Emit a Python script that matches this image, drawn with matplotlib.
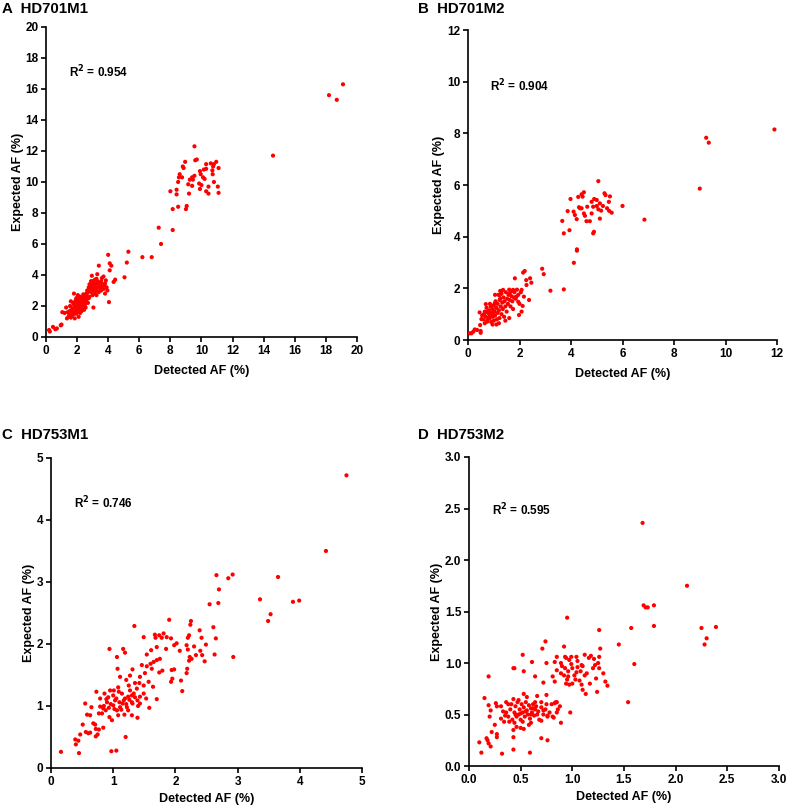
import matplotlib
matplotlib.use("Agg")
import matplotlib.pyplot as plt

plt.rcParams["font.family"] = ["Liberation Sans", "DejaVu Sans"]
plt.rcParams["font.weight"] = "bold"

# ---- A: HD701M1 (detected, expected)
a_pts = [
    (0.2, 0.45), (0.25, 0.35), (0.45, 0.65), (0.6, 0.5), (0.7, 0.55), (0.95, 0.75), (1.0, 0.8),
    (1.05, 1.6), (1.2, 1.55), (1.3, 1.9), (1.35, 1.2), (1.45, 1.3), (1.5, 1.45), (1.55, 1.7),
    (1.6, 1.25), (1.65, 1.6), (1.7, 1.85), (1.75, 2.2), (1.8, 2.8), (1.8, 1.5), (1.85, 1.2),
    (1.85, 2.0), (1.9, 2.35), (1.9, 1.7), (1.95, 1.5), (1.95, 2.5), (2.0, 1.9), (2.0, 2.2),
    (2.05, 1.6), (2.05, 2.7), (2.1, 1.3), (2.1, 2.0), (2.1, 2.4), (2.15, 1.8), (2.15, 2.15),
    (2.2, 2.25), (2.2, 1.55), (2.2, 2.6), (2.25, 1.95), (2.25, 2.35), (2.3, 1.7), (2.3, 2.1),
    (2.35, 2.5), (2.35, 1.9), (2.4, 2.2), (2.4, 2.75), (2.45, 1.75), (2.45, 2.0), (2.5, 2.4),
    (2.5, 2.6), (2.55, 1.9), (2.55, 2.2), (2.6, 2.8), (2.6, 2.45), (2.65, 3.0), (2.7, 2.2),
    (2.75, 3.2), (2.8, 2.6), (2.8, 3.4), (2.85, 3.1), (2.9, 2.9), (2.9, 3.6), (2.95, 3.95),
    (3.0, 3.3), (3.0, 2.7), (3.05, 1.9), (3.05, 3.5), (3.1, 3.1), (3.15, 2.8), (3.15, 3.7),
    (3.2, 3.4), (3.25, 2.7), (3.25, 3.0), (3.3, 4.05), (3.3, 3.6), (3.35, 3.2), (3.4, 4.6),
    (3.4, 2.9), (3.45, 3.5), (3.5, 3.1), (3.55, 3.0), (3.6, 3.8), (3.65, 3.4), (3.7, 3.9),
    (3.75, 3.35), (3.8, 2.8), (3.85, 3.65), (3.9, 3.2), (3.95, 3.0), (4.0, 5.3), (4.05, 2.25),
    (4.1, 4.75), (4.1, 4.3), (4.2, 4.6), (4.35, 3.55), (4.45, 3.7),
    (1.4, 1.6), (1.55, 2.0), (1.6, 2.3), (1.7, 1.4), (1.75, 1.65), (1.8, 2.1), (1.9, 1.9),
    (1.95, 2.2), (2.0, 2.5), (2.05, 2.05), (2.1, 1.85), (2.15, 2.45), (2.2, 2.0), (2.25, 1.65),
    (2.3, 2.3), (2.35, 2.1), (2.4, 1.95), (2.45, 2.35), (2.5, 2.1), (2.6, 2.3), (2.65, 2.65),
    (2.7, 2.9), (2.75, 2.5), (2.85, 3.35), (2.95, 3.15), (3.0, 3.6), (3.05, 3.0), (3.1, 3.45),
    (3.2, 3.2), (3.25, 3.75), (3.35, 3.45), (3.45, 3.25), (3.55, 3.6), (3.6, 3.3), (3.7, 3.1),
    (3.8, 3.45),
    (5.05, 3.85), (5.2, 4.8), (5.3, 5.5), (6.2, 5.15), (6.8, 5.15), (7.25, 7.05), (7.4, 6.0),
    (8.15, 6.9),
    (8.95, 11.3), (8.8, 11.0), (8.85, 10.9), (8.6, 10.5), (8.55, 10.3), (8.75, 10.3), (8.5, 10.0),
    (8.0, 9.4), (8.4, 9.5), (8.4, 9.2), (8.5, 8.4), (9.05, 8.45), (9.0, 8.25), (8.15, 8.25),
    (9.15, 9.85), (9.2, 9.25), (9.4, 9.75), (9.25, 10.15), (9.4, 10.3), (9.55, 10.4),
    (9.45, 10.15), (9.9, 10.7), (9.95, 10.5), (9.85, 9.9), (10.0, 9.8), (9.9, 9.55),
    (10.1, 10.3), (10.2, 10.2), (10.15, 10.8), (10.3, 10.85), (10.3, 11.15), (10.3, 9.4),
    (10.45, 9.25), (10.45, 9.7), (10.6, 11.2), (10.75, 11.0), (10.8, 11.15), (10.95, 11.3),
    (10.7, 10.75), (10.72, 10.5), (10.8, 10.0), (11.1, 10.9), (11.05, 9.7), (11.1, 9.3),
    (9.55, 12.3), (9.6, 11.4), (9.7, 11.45),
    (14.6, 11.7), (18.2, 15.6), (18.7, 15.3), (19.1, 16.3),
]

# ---- B: HD701M2
b_pts = [
    (0.06, 0.26), (0.13, 0.26), (0.2, 0.32), (0.26, 0.41), (0.35, 0.39), (0.49, 0.28),
    (0.49, 0.35), (0.47, 0.58), (0.45, 1.07), (0.52, 0.81), (0.65, 1.1), (0.69, 1.39),
    (0.74, 0.71), (0.84, 0.84), (0.97, 1.03), (1.04, 1.42), (1.1, 1.23), (1.23, 1.55),
    (1.23, 1.74), (1.36, 1.94), (1.62, 1.81), (1.75, 1.94), (1.82, 2.39), (2.08, 1.94),
    (2.14, 2.61), (2.2, 2.67), (2.26, 2.32), (2.41, 2.39), (2.46, 2.22), (2.37, 1.55),
    (2.27, 2.13), (1.98, 0.97), (2.08, 1.1), (2.12, 1.32), (2.17, 1.68), (1.95, 1.48),
    (1.88, 1.68),
    (0.55, 0.95), (0.6, 0.8), (0.62, 1.0), (0.7, 0.9), (0.72, 1.25), (0.75, 0.75), (0.78, 1.05),
    (0.8, 0.85), (0.82, 1.15), (0.85, 0.95), (0.88, 1.3), (0.9, 0.7), (0.92, 1.05), (0.95, 1.2),
    (0.97, 0.9), (1.0, 1.35), (1.0, 0.75), (1.03, 1.1), (1.05, 0.95), (1.07, 1.5), (1.1, 1.25),
    (1.12, 0.8), (1.15, 1.4), (1.15, 1.05), (1.18, 1.75), (1.2, 1.15), (1.22, 0.85), (1.25, 1.6),
    (1.27, 1.3), (1.3, 1.0), (1.3, 1.8), (1.33, 1.45), (1.35, 1.2), (1.38, 1.65), (1.4, 0.9),
    (1.42, 1.5), (1.45, 1.3), (1.47, 1.85), (1.5, 1.1), (1.52, 1.6), (1.55, 1.4), (1.57, 1.75),
    (1.6, 0.85), (1.62, 1.55), (1.65, 1.3), (1.68, 1.7), (1.7, 1.9), (1.72, 1.5), (1.75, 1.2),
    (1.78, 1.65), (1.8, 1.85), (1.85, 1.6), (1.9, 1.95), (1.95, 1.75), (2.0, 1.4), (2.05, 1.85),
    (1.45, 0.75), (1.2, 0.65), (0.95, 0.6), (1.05, 1.75), (0.85, 1.4), (1.25, 1.9), (1.6, 1.95),
    (0.65, 0.65), (0.75, 1.1), (1.1, 0.6),
    (2.88, 2.76), (2.94, 2.55), (3.2, 1.91), (3.72, 1.96), (4.11, 2.99), (4.23, 3.51),
    (4.23, 3.46),
    (3.98, 5.46), (3.87, 4.99), (3.66, 4.61), (3.72, 4.13), (3.94, 4.25),
    (4.28, 5.54), (4.41, 5.64), (4.5, 5.72), (4.45, 5.55), (4.31, 5.14), (4.35, 5.1),
    (4.1, 4.97), (4.15, 4.84), (4.22, 4.68), (4.5, 4.9), (4.54, 4.81), (4.6, 4.6), (4.73, 4.6),
    (4.8, 4.9), (4.86, 5.16), (4.8, 5.35), (4.9, 5.46), (4.89, 4.19), (4.86, 4.13), (5.0, 5.19),
    (5.06, 5.06), (5.12, 5.29), (5.17, 5.01), (5.24, 5.19), (5.3, 5.68), (5.34, 5.61),
    (5.4, 5.1), (5.47, 5.35), (5.51, 5.56), (5.48, 5.0), (5.58, 4.93), (5.12, 4.7), (5.0, 5.42),
    (4.63, 5.16), (4.41, 5.1), (5.06, 6.15), (6.0, 5.19), (6.85, 4.66),
    (9.0, 5.86), (9.25, 7.83), (9.35, 7.64), (11.9, 8.15),
]

# ---- C: HD753M1
c_pts = [
    (4.75, 4.72), (4.42, 3.5), (3.65, 3.08), (3.36, 2.72), (3.53, 2.48), (3.49, 2.37),
    (3.89, 2.68), (3.99, 2.7),
    (2.66, 3.11), (2.92, 3.12), (2.85, 3.06), (2.7, 2.88), (2.69, 2.66), (2.55, 2.64),
    (2.61, 2.27), (2.65, 2.09), (2.63, 1.83), (2.93, 1.79), (2.49, 1.99), (2.47, 1.72),
    (2.39, 2.22), (2.42, 2.1), (2.4, 1.89), (2.43, 1.82), (2.33, 1.82), (2.3, 1.96),
    (2.25, 2.37), (2.24, 2.31), (2.22, 2.14), (2.2, 2.1), (2.18, 1.98), (2.2, 1.91),
    (2.23, 1.79), (2.26, 1.76), (2.22, 1.73), (2.19, 1.6), (2.18, 1.53), (2.11, 1.24),
    (2.09, 1.41), (2.07, 1.89), (2.02, 2.01), (1.98, 1.98), (1.9, 2.39), (1.93, 2.09),
    (1.86, 2.11), (1.85, 1.92), (1.94, 1.58), (1.98, 1.59), (1.95, 1.44), (1.93, 1.39),
    (1.81, 2.17), (1.78, 2.1), (1.74, 2.14), (1.67, 2.15), (1.68, 2.1), (1.7, 1.95),
    (1.75, 1.76), (1.7, 1.74), (1.65, 1.71), (1.79, 1.57), (1.74, 1.54), (1.62, 1.6),
    (1.6, 1.68), (1.61, 1.9), (1.54, 1.83), (1.49, 2.11), (1.34, 2.29), (1.54, 1.64),
    (1.51, 1.53), (1.46, 1.66), (1.43, 1.47), (1.42, 1.37), (1.31, 1.59), (1.27, 1.49),
    (1.35, 1.37), (1.07, 1.6), (1.06, 1.79), (1.16, 1.92), (1.19, 1.86), (0.94, 1.92),
    (1.05, 0.28), (0.97, 0.27), (1.2, 0.5), (0.45, 0.24), (0.16, 0.26), (0.39, 0.46),
    (0.44, 0.44), (0.4, 0.38), (0.47, 0.54), (0.51, 0.7), (0.56, 0.58), (0.6, 0.56),
    (0.63, 0.57), (0.72, 0.63), (0.75, 0.54), (0.72, 0.51), (0.77, 0.62), (0.84, 0.65),
    (0.68, 0.72), (0.71, 0.7), (0.58, 0.86), (0.63, 0.85), (0.55, 1.04), (0.65, 0.98),
    (0.73, 1.23), (0.77, 0.88), (0.79, 0.99), (1.24, 1.15), (1.43, 1.15), (1.7, 1.11),
    (1.58, 0.97), (1.39, 0.81), (1.3, 0.85), (1.06, 0.93), (0.98, 0.77), (0.94, 0.82),
    (1.18, 0.86), (1.22, 0.98), (0.9, 1.06), (1.0, 1.17), (1.08, 1.3), (0.95, 1.25),
    (1.03, 1.09), (1.11, 0.98), (1.14, 1.2), (1.27, 1.25), (1.33, 1.2), (1.38, 1.28),
    (1.39, 1.09), (1.49, 1.2), (1.3, 1.06), (1.19, 1.12), (1.08, 0.85), (0.84, 0.96),
    (0.82, 0.88), (0.89, 1.11), (0.79, 1.12), (1.0, 1.01), (1.15, 1.04), (1.24, 0.93),
    (1.31, 1.04), (1.43, 1.04), (1.53, 1.12), (1.64, 1.31), (1.49, 1.33), (1.57, 1.39),
    (1.21, 1.42), (1.11, 1.47), (1.3, 1.17),
    (0.85, 1.0), (0.88, 0.93), (0.92, 1.14), (0.96, 1.03), (1.02, 0.95), (1.05, 1.12),
    (1.1, 1.06), (1.13, 0.94), (1.17, 1.09), (1.21, 1.03), (1.26, 1.1), (1.35, 1.14),
    (1.4, 1.0), (0.93, 0.97), (1.09, 1.23), (1.25, 1.33), (0.86, 1.2), (1.01, 1.25),
]

# ---- D: HD753M2
d_pts = [
    (1.68, 2.36), (2.11, 1.75), (1.69, 1.56), (1.71, 1.54), (1.73, 1.54), (1.79, 1.56),
    (1.79, 1.36), (1.57, 1.34), (2.25, 1.34), (2.39, 1.35), (2.3, 1.24), (2.28, 1.18),
    (1.6, 0.99), (1.54, 0.62), (1.45, 1.18), (1.26, 1.32), (0.95, 1.44), (1.27, 1.14),
    (0.92, 1.16), (0.74, 1.21), (0.71, 1.14), (0.52, 1.08), (0.43, 0.95), (0.44, 0.95),
    (0.61, 1.01), (0.19, 0.87), (0.64, 0.87), (0.53, 0.92), (0.75, 1.0), (0.93, 1.06),
    (0.85, 1.06), (0.83, 1.01), (0.99, 1.06), (1.04, 1.06), (1.12, 1.08), (1.18, 1.07),
    (1.21, 1.04), (1.25, 1.0), (1.26, 1.06), (1.26, 0.95), (1.3, 0.9), (1.23, 0.85),
    (1.32, 0.82), (1.34, 0.78), (1.24, 0.72), (1.17, 0.8), (1.13, 0.7), (1.1, 0.74),
    (1.09, 0.79), (1.12, 0.88), (1.04, 0.91), (0.99, 0.99), (0.93, 0.95), (0.96, 0.87),
    (0.89, 0.9), (0.89, 1.0), (0.85, 0.93), (0.81, 0.87), (0.83, 0.82), (0.94, 0.8),
    (0.97, 0.79), (1.05, 0.96), (1.09, 0.98), (1.07, 0.83), (0.85, 0.62), (0.83, 0.61),
    (0.88, 0.58), (0.85, 0.52), (0.89, 0.42), (0.81, 0.48), (0.75, 0.69), (0.72, 0.81),
    (0.7, 0.62), (0.72, 0.54), (0.76, 0.49), (0.98, 0.52), (0.7, 0.27), (0.76, 0.25),
    (0.59, 0.13), (0.32, 0.12), (0.12, 0.13), (0.1, 0.23), (0.19, 0.22), (0.21, 0.19),
    (0.18, 0.25), (0.22, 0.33), (0.27, 0.31), (0.27, 0.28), (0.17, 0.27), (0.15, 0.66),
    (0.19, 0.59), (0.21, 0.54), (0.2, 0.48), (0.26, 0.61), (0.27, 0.58), (0.25, 0.4),
    (0.43, 0.28), (0.43, 0.35), (0.5, 0.37), (0.53, 0.36), (0.43, 0.16), (0.31, 0.58),
    (0.33, 0.53), (0.35, 0.49), (0.31, 0.46), (0.34, 0.43), (0.39, 0.43), (0.36, 0.62),
    (0.36, 0.52), (0.38, 0.48), (0.4, 0.55), (0.41, 0.6), (0.42, 0.45), (0.43, 0.65),
    (0.44, 0.52), (0.45, 0.58), (0.46, 0.48), (0.47, 0.62), (0.48, 0.5), (0.49, 0.55),
    (0.5, 0.45), (0.51, 0.6), (0.52, 0.52), (0.53, 0.57), (0.54, 0.48), (0.55, 0.62),
    (0.56, 0.54), (0.57, 0.5), (0.58, 0.59), (0.59, 0.46), (0.6, 0.56), (0.61, 0.52),
    (0.62, 0.6), (0.63, 0.49), (0.64, 0.55), (0.65, 0.58), (0.66, 0.5), (0.67, 0.53),
    (0.68, 0.45), (0.7, 0.57), (0.72, 0.5), (0.74, 0.55), (0.76, 0.48), (0.78, 0.52),
    (0.8, 0.6), (0.82, 0.47), (0.84, 0.62), (0.86, 0.55), (0.44, 0.42), (0.48, 0.64),
    (0.52, 0.43), (0.56, 0.67), (0.6, 0.42), (0.64, 0.62), (0.38, 0.6), (0.46, 0.38),
    (0.53, 0.7), (0.58, 0.4), (0.66, 0.68), (0.7, 0.44), (0.75, 0.6), (0.5, 0.51),
    (0.55, 0.53), (0.6, 0.5), (0.45, 0.5), (0.62, 0.56),
    (0.9, 0.97), (0.92, 0.88), (0.95, 0.84), (0.97, 1.03), (1.0, 0.95), (1.02, 0.88),
    (1.05, 1.02), (1.08, 0.92), (1.1, 0.97), (1.14, 0.9), (1.16, 1.05), (1.2, 0.95),
    (1.22, 0.98), (0.96, 0.92), (1.0, 0.8), (0.94, 1.05), (1.03, 0.84),
]

panels = [
    ("A  HD701M1", a_pts, 20, 2, "0.954", [0.0584, 0.5814, 0.3952, 0.3851], False, (0.002, 0.998)),
    ("B  HD701M2", b_pts, 12, 2, "0.904", [0.5947, 0.5776, 0.3926, 0.3851], False, (0.531, 0.998)),
    ("C  HD753M1", c_pts, 5, 1, "0.746", [0.0648, 0.0460, 0.3952, 0.3851], False, (0.002, 0.468)),
    ("D  HD753M2", d_pts, 3, 0.5, "0.595", [0.5959, 0.0484, 0.3939, 0.3839], True, (0.531, 0.468)),
]
r2_pos = [(0.074, 0.855), (0.07, 0.82), (0.074, 0.855), (0.074, 0.83)]
ylab_x = [-0.071, -0.074, -0.051, -0.084]
xlab_y = [-0.09, -0.09, -0.081, -0.081]

fig = plt.figure(figsize=(7.87, 8.05), dpi=100)

for i, (title, pts, lim, step, r2, rect, decimals, tpos) in enumerate(panels):
    ax = fig.add_axes(rect)
    xs = [p[0] for p in pts]
    ys = [p[1] for p in pts]
    ax.scatter(xs, ys, s=9, color="#ff0000", edgecolors="none", zorder=3)
    ax.set_xlim(0, lim)
    ax.set_ylim(0, lim)
    ticks = [k * step for k in range(int(round(lim / step)) + 1)]
    ax.set_xticks(ticks)
    ax.set_yticks(ticks)
    if decimals:
        labels = ["%.1f" % t for t in ticks]
    else:
        labels = ["%d" % t for t in ticks]
    ax.set_xticklabels(labels)
    ax.set_yticklabels(labels)
    for s in ["top", "right"]:
        ax.spines[s].set_visible(False)
    for s in ["left", "bottom"]:
        ax.spines[s].set_linewidth(1.2)
    ax.tick_params(direction="out", length=3.5, width=1.2, labelsize=8.5, pad=2)
    for lab in ax.get_xticklabels() + ax.get_yticklabels():
        lab.set_fontweight("bold")
    ax.set_xlabel("Detected AF (%)", fontsize=9, fontweight="bold")
    ax.set_ylabel("Expected AF (%)", fontsize=9, fontweight="bold")
    ax.xaxis.set_label_coords(0.5, xlab_y[i])
    ax.yaxis.set_label_coords(ylab_x[i], 0.5)
    ax.text(r2_pos[i][0], r2_pos[i][1], "R$^{\\mathbf{2}}$ = " + r2, transform=ax.transAxes,
            fontsize=8.5, fontweight="bold", va="center")
    fig.text(tpos[0], tpos[1], title, fontsize=10.8, fontweight="bold", va="top", ha="left")

fig.savefig("out.png", dpi=100)
